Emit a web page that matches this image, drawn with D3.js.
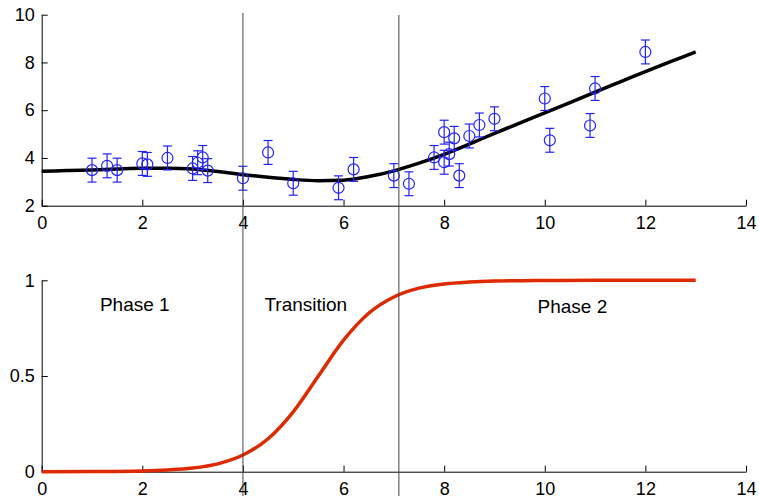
<!DOCTYPE html>
<html>
<head>
<meta charset="utf-8">
<script src="https://cdn.jsdelivr.net/npm/d3@7"></script>
<style>
  body { margin: 0; background: #fff; }
  text { font-family: "Liberation Sans", Arial, Helvetica, sans-serif; }
</style>
</head>
<body>
<svg id="svg1" width="759" height="496"></svg>
<script>
// observations (top panel), error bars are +-0.5
var obsX = [1.0, 1.3, 1.5, 2.0, 2.1, 2.5, 3.0, 3.1, 3.2, 3.3, 4.0, 4.5, 5.0, 5.9, 6.2,
            7.0, 7.3, 7.8, 8.0, 8.0, 8.1, 8.2, 8.3, 8.5, 8.7, 9.0, 10.0, 10.1, 10.9, 11.0, 12.0];
var obsY = [3.49, 3.67, 3.49, 3.77, 3.73, 4.0, 3.56, 3.80, 4.02, 3.47, 3.15, 4.23, 2.94, 2.75, 3.52,
            3.26, 2.92, 4.02, 5.08, 3.82, 4.16, 4.82, 3.26, 4.92, 5.38, 5.64, 6.49, 4.74, 5.36, 6.91, 8.44];
var obsErr = 0.5;

// fitted curve
var fitX = [0, 0.5, 1, 1.5, 2, 2.5, 3, 3.5, 4, 4.5, 5, 5.5, 6, 6.5, 7, 7.5, 8, 8.5, 9, 9.5, 10, 10.5, 11, 11.5, 12, 12.5, 13];
var fitY = [3.44, 3.47, 3.50, 3.54, 3.57, 3.57, 3.54, 3.43, 3.30, 3.19, 3.10, 3.05, 3.07, 3.22, 3.46, 3.78, 4.15, 4.58, 5.03, 5.46, 5.89, 6.32, 6.76, 7.19, 7.62, 8.03, 8.44];

// transition weight (bottom panel)
var wX = [0, 1, 2, 2.5, 3, 3.5, 4, 4.5, 5, 5.5, 6, 6.5, 7, 7.5, 8, 8.5, 9, 10, 11, 12, 13];
var wY = [0.0, 0.001, 0.004, 0.009, 0.019, 0.041, 0.087, 0.172, 0.313, 0.5, 0.687, 0.828, 0.913, 0.959, 0.981, 0.991, 0.996, 0.999, 1.0, 1.0, 1.0];

var boundaries = [4, 7.1];
var phaseLabels = ["Phase 1", "Transition", "Phase 2"];
var phaseLabelX = [1.85, 5.25, 10.55];

var topTicksY = [2, 4, 6, 8, 10];
var botTicksY = [0, 0.5, 1];
var ticksX = [0, 2, 4, 6, 8, 10, 12, 14];

var svg = d3.select("#svg1");

var x = d3.scaleLinear().domain([0, 14]).range([41.7, 746]);
var yTop = d3.scaleLinear().domain([2, 10]).range([205.7, 14.7]);
var yBot = d3.scaleLinear().domain([0, 1]).range([471.7, 280.3]);

function styleAxis(g) {
  g.selectAll("path.domain").attr("stroke", "#000").attr("stroke-width", 1);
  g.selectAll(".tick line").attr("stroke", "#000").attr("stroke-width", 1);
  g.selectAll("text").attr("font-size", 18).attr("fill", "#000")
    .attr("font-family", "'Liberation Sans', Arial, sans-serif");
}

// top panel axes
svg.append("g")
    .attr("transform", "translate(0," + yTop(2) + ")")
    .call(d3.axisBottom(x).tickValues(ticksX).tickFormat(d3.format("d"))
      .tickSizeInner(-6).tickSizeOuter(0).tickPadding(11))
    .call(styleAxis);
svg.append("g")
    .attr("transform", "translate(" + x(0) + ",0)")
    .call(d3.axisLeft(yTop).tickValues(topTicksY).tickFormat(d3.format("d"))
      .tickSizeInner(-6).tickSizeOuter(0).tickPadding(7))
    .call(styleAxis);

// bottom panel axes
svg.append("g")
    .attr("transform", "translate(0," + yBot(0) + ")")
    .call(d3.axisBottom(x).tickValues(ticksX).tickFormat(d3.format("d"))
      .tickSizeInner(-6).tickSizeOuter(0).tickPadding(11))
    .call(styleAxis);
svg.append("g")
    .attr("transform", "translate(" + x(0) + ",0)")
    .call(d3.axisLeft(yBot).tickValues(botTicksY).tickFormat(function(d) { return d === 0.5 ? "0.5" : d3.format("d")(d); })
      .tickSizeInner(-6).tickSizeOuter(0).tickPadding(7))
    .call(styleAxis);

// fitted line
var fitLine = d3.line()
    .x(function(d) { return x(d[0]); })
    .y(function(d) { return yTop(d[1]); })
    .curve(d3.curveMonotoneX);
svg.append("path")
    .datum(d3.zip(fitX, fitY))
    .attr("d", fitLine)
    .attr("fill", "none")
    .attr("stroke", "#000")
    .attr("stroke-width", 3.5);

// error bars + circles
var obs = svg.append("g").attr("stroke", "#2222ff").attr("stroke-width", 1.2).attr("fill", "none");
var pts = obs.selectAll("g.pt").data(d3.zip(obsX, obsY)).enter().append("g").attr("class", "pt");
pts.append("line")
    .attr("x1", function(d) { return x(d[0]); })
    .attr("x2", function(d) { return x(d[0]); })
    .attr("y1", function(d) { return yTop(d[1] - obsErr); })
    .attr("y2", function(d) { return yTop(d[1] + obsErr); });
[-1, 1].forEach(function(s) {
  pts.append("line")
      .attr("x1", function(d) { return x(d[0]) - 4.5; })
      .attr("x2", function(d) { return x(d[0]) + 4.5; })
      .attr("y1", function(d) { return yTop(d[1] + s * obsErr); })
      .attr("y2", function(d) { return yTop(d[1] + s * obsErr); });
});
pts.append("circle")
    .attr("cx", function(d) { return x(d[0]); })
    .attr("cy", function(d) { return yTop(d[1]); })
    .attr("r", 5.5);

// transition weight curve
var wLine = d3.line()
    .x(function(d) { return x(d[0]); })
    .y(function(d) { return yBot(d[1]); })
    .curve(d3.curveMonotoneX);
svg.append("path")
    .datum(d3.zip(wX, wY))
    .attr("d", wLine)
    .attr("fill", "none")
    .attr("stroke", "#dd2a00")
    .attr("stroke-width", 3.5);

// phase boundaries
svg.selectAll("line.bound").data(boundaries).enter().append("line")
    .attr("class", "bound")
    .attr("x1", function(d) { return x(d); })
    .attr("x2", function(d) { return x(d); })
    .attr("y1", function(d, i) { return i === 0 ? 13 : 15; })
    .attr("y2", 496)
    .attr("stroke", "#444")
    .attr("stroke-width", 1);

// phase labels
svg.selectAll("text.phase").data(phaseLabels).enter().append("text")
    .attr("class", "phase")
    .attr("x", function(d, i) { return x(phaseLabelX[i]); })
    .attr("y", function(d, i) { return i === 2 ? 313 : 311; })
    .attr("text-anchor", "middle")
    .attr("font-size", 19)
    .attr("fill", "#000")
    .text(function(d) { return d; });
</script>
</body>
</html>
